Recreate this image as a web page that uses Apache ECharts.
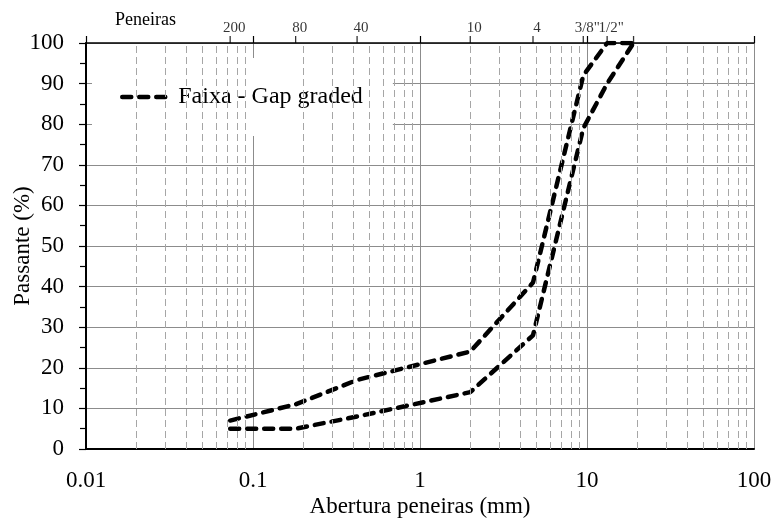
<!DOCTYPE html>
<html>
<head>
<meta charset="utf-8">
<script src="https://cdn.jsdelivr.net/npm/echarts@6/dist/echarts.min.js"></script>
<style>
  html, body { margin: 0; padding: 0; background: #fff; }
  #chart { width: 775px; height: 522px; }
</style>
</head>
<body>
<div id="chart"></div>
<script>
// Sieve openings (mm) and the matching sieve names on the top scale
var sieveSizes = [0.073, 0.18, 0.42, 2.0, 4.75, 9.5, 13.2, 19];
var sieveNames = ['200', '80', '40', '10', '4', '3/8"', '1/2"', ''];

// Gradation band limits, % passing at each sieve
var upperLimit = [7, 11, 17, 24, 41, 92, 100, 100];
var lowerLimit = [5, 5, 8, 14, 28, 79, 90, 100];

var seriesName = 'Faixa - Gap graded';
var FONT = 'Liberation Serif, Times New Roman, serif';

// Intermediate log lines (2..9 within each decade)
var minorLines = [];
[0.01, 0.1, 1, 10].forEach(function (d) {
  for (var k = 2; k <= 9; k++) minorLines.push({ xAxis: +(d * k).toPrecision(3) });
});

function pairs(ys) {
  return sieveSizes.map(function (x, i) { return [x, ys[i]]; });
}

var curveStyle = { color: '#000', width: 4.5, type: [9, 8], cap: 'round' };
var clear = 'rgba(0,0,0,0)';

var chart = echarts.init(document.getElementById('chart'), null, { renderer: 'canvas' });
chart.setOption({
  animation: false,
  backgroundColor: '#fff',
  title: {
    text: 'Peneiras',
    left: 110,
    top: 6,
    textStyle: { fontFamily: FONT, fontSize: 18, fontWeight: 'normal', color: '#000' }
  },
  grid: { left: 86, right: 21, top: 43, bottom: 73, containLabel: false, outerBoundsMode: 'none' },
  legend: {
    data: [seriesName],
    left: 92,
    top: 58,
    padding: [27, 30, 27, 28],
    backgroundColor: '#fff',
    itemWidth: 48,
    itemHeight: 24,
    itemStyle: { color: clear, borderColor: clear, borderWidth: 0 },
    lineStyle: { color: '#000', width: 4.5, type: [9, 8], cap: 'round' },
    textStyle: { fontFamily: FONT, fontSize: 24, color: '#000', padding: [0, 0, 0, 3] }
  },
  xAxis: [{
    type: 'log',
    logBase: 10,
    min: 0.01,
    max: 100,
    position: 'bottom',
    axisLine: { lineStyle: { color: '#000', width: 2 } },
    axisTick: { show: false },
    axisLabel: {
      fontFamily: FONT, fontSize: 23, color: '#000', margin: 20,
      formatter: function (v) { return String(+v.toPrecision(3)); }
    },
    splitLine: { show: true, lineStyle: { color: '#8c8c8c', width: 1 } },
    name: 'Abertura peneiras (mm)',
    nameLocation: 'middle',
    nameGap: 46,
    nameMoveOverlap: false,
    nameTextStyle: { fontFamily: FONT, fontSize: 23, color: '#000' }
  }, {
    type: 'log',
    logBase: 10,
    min: 0.01,
    max: 100,
    position: 'top',
    axisLine: { lineStyle: { color: '#000', width: 1.5 } },
    axisTick: { show: true, inside: false, length: 7, lineStyle: { color: '#000', width: 1.2 } },
    axisLabel: { show: false },
    splitLine: { show: false }
  }],
  yAxis: {
    type: 'value',
    min: 0,
    max: 100,
    interval: 10,
    axisLine: { show: true, lineStyle: { color: '#000', width: 2 } },
    axisTick: { show: true, inside: false, length: 7, lineStyle: { color: '#000', width: 1.2 } },
    minorTick: { show: true, splitNumber: 2, length: 6, lineStyle: { color: '#000', width: 1.2 } },
    axisLabel: { fontFamily: FONT, fontSize: 23, color: '#000', margin: 22 },
    splitLine: { show: true, lineStyle: { color: '#8c8c8c', width: 1 } },
    name: 'Passante (%)',
    nameLocation: 'middle',
    nameRotate: 90,
    nameGap: 52,
    nameMoveOverlap: false,
    nameTextStyle: { fontFamily: FONT, fontSize: 23, color: '#000' }
  },
  series: [{
    // carrier for the intermediate dashed grid lines
    type: 'line',
    data: [],
    z: 1,
    silent: true,
    markLine: {
      silent: true,
      symbol: ['none', 'none'],
      label: { show: false },
      lineStyle: { color: '#a6a6a6', width: 1, type: [7, 4] },
      emphasis: { disabled: true },
      data: minorLines
    }
  }, {
    name: seriesName,
    type: 'line',
    data: pairs(upperLimit),
    showSymbol: false,
    symbol: 'none',
    z: 3,
    itemStyle: { color: '#000' },
    lineStyle: curveStyle
  }, {
    name: seriesName,
    type: 'line',
    data: pairs(lowerLimit),
    showSymbol: false,
    symbol: 'none',
    z: 3,
    itemStyle: { color: '#000' },
    lineStyle: curveStyle
  }, {
    // sieve ticks and names along the top edge
    type: 'scatter',
    data: sieveSizes.map(function (x) { return [x, 100]; }),
    symbol: 'rect',
    symbolSize: [1.3, 7],
    symbolOffset: [0, -3.5],
    itemStyle: { color: '#000' },
    clip: false,
    silent: true,
    z: 5,
    label: {
      show: true,
      position: 'top',
      distance: 0,
      offset: [4, 0],
      fontFamily: FONT,
      fontSize: 15,
      color: '#000',
      formatter: function (p) { return sieveNames[p.dataIndex]; }
    }
  }]
});
</script>
</body>
</html>
